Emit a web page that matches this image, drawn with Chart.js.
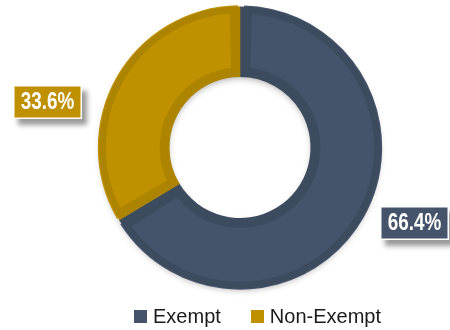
<!DOCTYPE html>
<html>
<head>
<meta charset="utf-8">
<script src="https://cdn.jsdelivr.net/npm/chart.js@4/dist/chart.umd.min.js"></script>
<style>
	html, body { margin: 0; padding: 0; background: #fff; }
	.chartWrap { position: relative; width: 450px; height: 330px; }
	.graphLegendBox { position: absolute; left: 0; top: 305px; width: 450px; box-sizing: border-box; padding-left: 65px; }
	.graphLegendBox ul { list-style: none; margin: 0; padding: 0; display: flex; justify-content: center; }
	.graphLegendBox li { display: flex; align-items: center; margin: 0 15px; font: 20px "Liberation Sans", Arial, sans-serif; color: #1a1a1a; line-height: 22px; }
	.graphLegendBox li span { display: inline-block; width: 13px; height: 13px; margin-right: 6px; }
</style>
</head>
<body>
<div class="chartWrap">
	<canvas id="payChart" width="450" height="330"></canvas>
</div>
<script>
var categories = ['Exempt', 'Non-Exempt'];
var shares = [66.4, 33.6];
var percentLabels = ['66.4%', '33.6%'];

// slice fill + darker inner rim
var fillColor = ['#45546a', '#bf9000'];
var rimColor = ['#3d4b5f', '#ad8400'];
// label box nudge from its radial spot
var labelNudge = [[10, -18], [-28, 48]];

var narrowFont = 'bold 23px "Liberation Sans Narrow", "Arial Narrow", sans-serif';
var plainFont = 'bold 23px "Liberation Sans", Arial, sans-serif';

var pctLabels = {
	id: 'pctLabels',
	afterDatasetsDraw: function(chart) {
		var ctx = chart.ctx;
		var meta = chart.getDatasetMeta(0);
		ctx.save();
		// no narrow face installed -> squeeze the regular bold one
		ctx.font = plainFont;
		var plainW = ctx.measureText('66.4%').width;
		ctx.font = narrowFont;
		var squeeze = 1;
		if (Math.abs(ctx.measureText('66.4%').width - plainW) < 0.5) {
			ctx.font = plainFont;
			squeeze = 0.82;
		}
		ctx.textAlign = 'center';
		ctx.textBaseline = 'middle';
		meta.data.forEach(function(arc, i) {
			var p = arc.getProps(['x', 'y', 'startAngle', 'endAngle', 'outerRadius'], true);
			var mid = (p.startAngle + p.endAngle) / 2;
			var dist = p.outerRadius * 1.34;
			var cx = p.x + Math.cos(mid) * dist + labelNudge[i][0];
			var cy = p.y + Math.sin(mid) * dist + labelNudge[i][1];
			var text = percentLabels[i];
			var w = Math.round(ctx.measureText(text).width * squeeze + 16);
			var h = 34;
			var bx = Math.round(cx - w / 2), by = Math.round(cy - h / 2);

			ctx.save();
			ctx.shadowColor = 'rgba(0,0,0,0.4)';
			ctx.shadowBlur = 5;
			ctx.shadowOffsetX = 5;
			ctx.shadowOffsetY = 6;
			ctx.fillStyle = fillColor[i];
			ctx.fillRect(bx, by, w, h);
			ctx.restore();

			ctx.lineWidth = 1.5;
			ctx.strokeStyle = '#ffffff';
			ctx.strokeRect(bx + 0.75, by + 0.75, w - 1.5, h - 1.5);

			ctx.save();
			ctx.translate(bx + w / 2, by + h / 2 + 1);
			ctx.scale(squeeze, 1);
			ctx.fillStyle = '#ffffff';
			ctx.fillText(text, 0, 0);
			ctx.restore();
		});
		ctx.restore();
	}
};

var ringShadow = {
	id: 'ringShadow',
	beforeDatasetsDraw: function(chart) {
		var arc = chart.getDatasetMeta(0).data[0];
		if (!arc) return;
		var p = arc.getProps(['x', 'y', 'outerRadius', 'innerRadius'], true);
		var ctx = chart.ctx;
		ctx.save();
		ctx.shadowColor = 'rgba(0,0,0,0.35)';
		ctx.shadowBlur = 7;
		ctx.shadowOffsetY = 3;
		ctx.fillStyle = '#ffffff';
		ctx.beginPath();
		ctx.arc(p.x, p.y, p.outerRadius - 2, 0, Math.PI * 2);
		ctx.arc(p.x, p.y, p.innerRadius + 2, 0, Math.PI * 2, true);
		ctx.fill();
		ctx.restore();
	}
};

var chartSet = new Chart(document.getElementById('payChart'), {
	type: 'doughnut',
	data: {
		labels: categories,
		datasets: [{
			data: shares,
			backgroundColor: fillColor,
			borderColor: rimColor,
			borderWidth: 8,
			borderAlign: 'inner',
			spacing: 3
		}]
	},
	options: {
		responsive: false,
		animation: false,
		cutout: '50%',
		layout: { padding: { top: 5, bottom: 40, left: 30, right: 0 } },
		plugins: {
			legend: { display: false },
			tooltip: { enabled: false }
		}
	},
	plugins: [ringShadow, pctLabels]
});

// legend as html under the ring
var labelItems = chartSet.options.plugins.legend.labels.generateLabels(chartSet);
var html = '<div class="graphLegendBox"><ul>';
for (var i = 0; i < labelItems.length; i++) {
	html += '<li><span style="background-color:' + fillColor[i] + '"></span>' + labelItems[i].text + '</li>';
}
html += '</ul></div>';
document.querySelector('.chartWrap').insertAdjacentHTML('beforeend', html);
</script>
</body>
</html>
